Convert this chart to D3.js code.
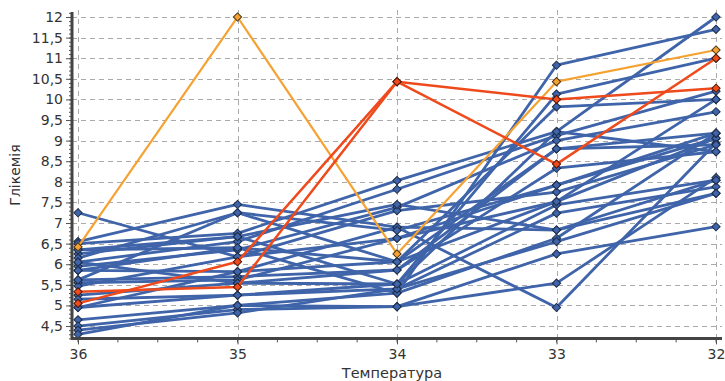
<!DOCTYPE html>
<html>
<head>
<meta charset="utf-8">
<script src="https://cdn.jsdelivr.net/npm/d3@7"></script>
<style>
  body { margin: 0; background: #fff; }
  text { font-family: "DejaVu Sans", sans-serif; fill: #333; }
</style>
</head>
<body>
<svg id="chart" width="725" height="381"></svg>
<script>
// categories on the x axis (temperature)
const temps = ['36', '35', '34', '33', '32'];
const yTicks = [4.5, 5, 5.5, 6, 6.5, 7, 7.5, 8, 8.5, 9, 9.5, 10, 10.5, 11, 11.5, 12];

// glycemia per patient, one value per temperature
const blueSeries = [
  [7.25, 6.18, 6.63, 7.52, 9.06],
  [6.55, 7.45, 6.9, 4.95, 8.94],
  [6.5, 6.75, 8.03, 9.22, 12.0],
  [6.35, 6.4, 5.3, 10.83, 11.7],
  [6.25, 6.67, 5.52, 10.13, 11.0],
  [6.15, 7.25, 6.06, 9.82, 10.0],
  [6.05, 6.55, 7.82, 9.12, 10.2],
  [5.95, 6.35, 7.38, 9.0, 9.7],
  [5.85, 5.82, 6.06, 8.8, 9.18],
  [5.62, 5.7, 5.86, 8.33, 8.73],
  [5.55, 5.62, 6.63, 7.92, 9.06],
  [5.47, 6.18, 7.3, 7.75, 8.9],
  [5.25, 5.54, 5.52, 7.44, 8.04],
  [5.15, 5.25, 5.4, 7.24, 7.88],
  [4.95, 5.82, 6.9, 6.83, 7.72],
  [4.65, 5.0, 5.3, 6.63, 9.18],
  [4.5, 4.9, 4.97, 5.54, 8.1],
  [4.4, 4.82, 5.4, 6.55, 7.72],
  [4.3, 5.0, 4.97, 6.25, 6.91],
  [5.85, 6.4, 6.06, 7.52, 10.0],
  [6.05, 5.54, 5.86, 8.8, 8.9],
  [5.62, 7.25, 6.82, 7.92, 9.18],
  [4.95, 5.25, 5.52, 9.22, 8.73],
  [6.35, 6.67, 7.45, 6.83, 8.04]
];
const orangeSeries = [[6.42, 12.0, 6.25, 10.43, 11.2]];
const redSeries = [
  [5.33, 5.45, 10.43, 10.0, 10.27],
  [5.05, 6.06, 10.43, 8.43, 11.0]
];

const svg = d3.select('#chart');
const plotLeft = 72, plotRight = 722, plotTop = 10, plotBottom = 338.4;

const x = d3.scalePoint().domain(temps).range([78, 716]);
const y = d3.scaleLinear().domain([4.2, 12.17]).range([plotBottom, plotTop]);
const comma = d => String(d).replace('.', ',');

// grid
const grid = svg.append('g').attr('stroke', '#aaa').attr('stroke-dasharray', '5,4').attr('stroke-width', 1);
grid.selectAll('.h').data(yTicks).join('line')
    .attr('x1', plotLeft).attr('x2', plotRight)
    .attr('y1', d => Math.round(y(d)) + 0.5).attr('y2', d => Math.round(y(d)) + 0.5);
grid.selectAll('.v').data(temps).join('line')
    .attr('x1', d => Math.round(x(d)) + 0.5).attr('x2', d => Math.round(x(d)) + 0.5)
    .attr('y1', plotTop).attr('y2', plotBottom + 5);

// lines and markers
const line = d3.line().x((d, i) => x(temps[i])).y(d => y(d));
const marker = d3.symbol(d3.symbolSquare, 34);

function drawSeries(data, color, width, stroke) {
  const g = svg.append('g');
  g.selectAll('path.l').data(data).join('path')
      .attr('class', 'l')
      .attr('d', line)
      .attr('fill', 'none')
      .attr('stroke', color)
      .attr('stroke-width', width)
      .attr('stroke-linejoin', 'round');
  g.selectAll('path.m').data(data.flatMap(s => s.map((v, i) => [i, v]))).join('path')
      .attr('class', 'm')
      .attr('d', marker)
      .attr('transform', ([i, v]) => `translate(${x(temps[i])},${y(v)}) rotate(45)`)
      .attr('fill', color)
      .attr('stroke', stroke)
      .attr('stroke-width', 1);
}
drawSeries(blueSeries, '#3f64a9', 2.8, '#1d2c48');
drawSeries(orangeSeries, '#f5a233', 2.2, '#4a3210');
drawSeries(redSeries, '#ee4a1c', 2.5, '#4a1a08');

// y axis
const yAxis = svg.append('g').attr('transform', `translate(${plotLeft},0)`);
yAxis.call(d3.axisLeft(y).tickValues(yTicks).tickSize(6).tickFormat(comma));
const minor = d3.range(42, 122).map(v => v / 10);
yAxis.append('g').call(d3.axisLeft(y).tickValues(minor).tickSize(3).tickFormat(''));
yAxis.selectAll('.domain').remove();
yAxis.append('line').attr('x1', 0).attr('x2', 0).attr('y1', plotTop + 2).attr('y2', plotBottom + 1)
    .attr('stroke', '#444').attr('stroke-width', 3);
yAxis.selectAll('.tick line').attr('stroke', '#555');
yAxis.selectAll('.tick text').attr('x', -9).style('font-size', '14px').style('fill', '#333');

// x axis
const xAxis = svg.append('g').attr('transform', `translate(0,${plotBottom})`);
xAxis.call(d3.axisBottom(x).tickSize(6).tickPadding(5));
const quarters = d3.range(0, 17).map(i => 78 + i * (716 - 78) / 16);
xAxis.selectAll('.q').data(quarters).join('line')
    .attr('x1', d => d).attr('x2', d => d).attr('y1', 0).attr('y2', 4)
    .attr('stroke', '#555');
xAxis.selectAll('.domain').remove();
xAxis.append('line').attr('x1', plotLeft - 1).attr('x2', plotRight).attr('y1', 0).attr('y2', 0)
    .attr('stroke', '#444').attr('stroke-width', 3);
xAxis.selectAll('.tick line').attr('stroke', '#555');
xAxis.selectAll('.tick text').style('font-size', '14px').style('fill', '#333');

// titles
svg.append('text').attr('x', 392).attr('y', 377.5).attr('text-anchor', 'middle')
    .style('font-size', '14.5px').text('Температура');
svg.append('text').attr('transform', 'translate(20,175) rotate(-90)').attr('text-anchor', 'middle')
    .style('font-size', '14px').text('Глікемія');
</script>
</body>
</html>
